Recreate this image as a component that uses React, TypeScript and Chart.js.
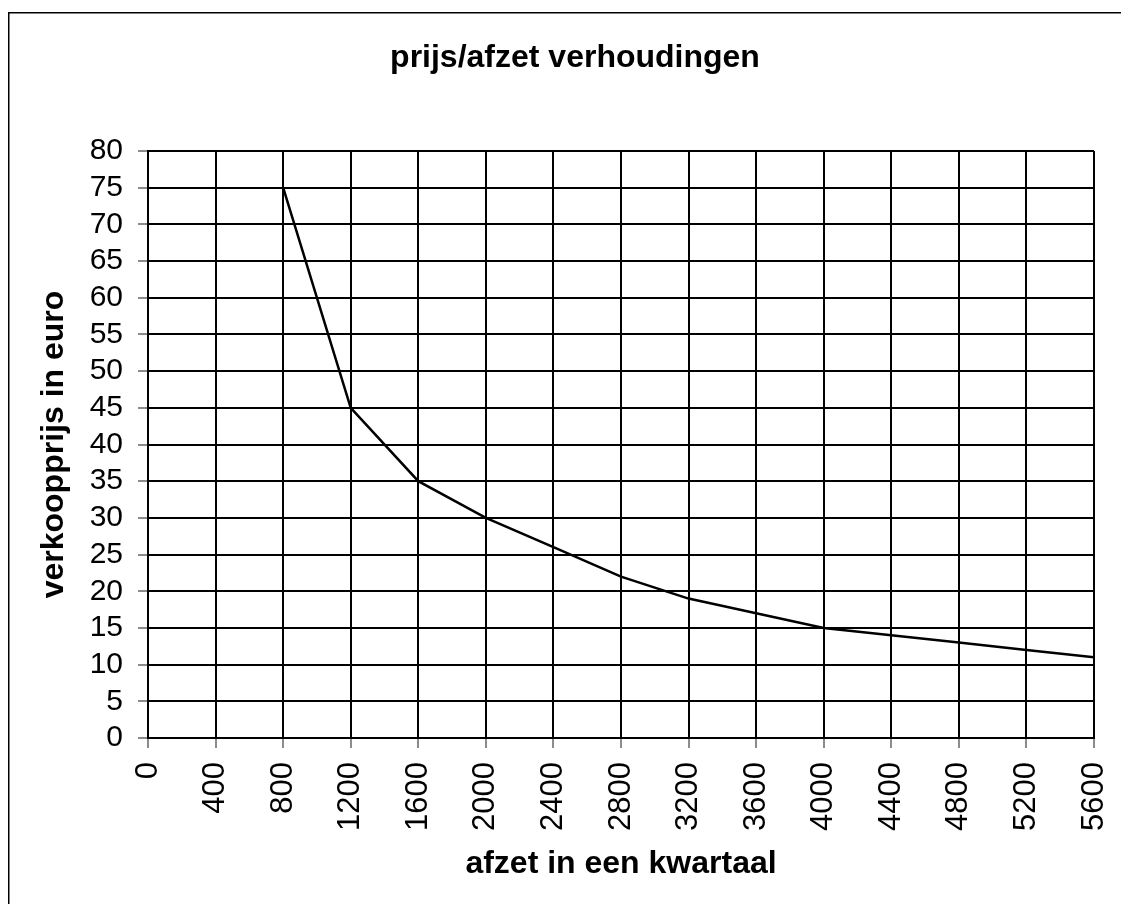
import React, { useEffect, useRef } from "react";
import { Chart, registerables } from "chart.js";

Chart.register(...registerables);

const afzet: number[] = [800, 1200, 1600, 2000, 2400, 2800, 3200, 3600, 4000, 4400, 4800, 5200, 5600];
const prijs: number[] = [75, 45, 35, 30, 26, 22, 19, 17, 15, 14, 13, 12, 11];
const titleText = "prijs/afzet verhoudingen";
const xTitle = "afzet in een kwartaal";
const yTitle = "verkoopprijs in euro";

const FONT = "'Liberation Sans', Arial, Helvetica, sans-serif";

const framePlugin = {
  id: "frame",
  afterDraw(chart: any) {
    const ctx = chart.ctx;
    ctx.save();
    ctx.strokeStyle = "#000";
    ctx.lineWidth = 1.5;
    ctx.beginPath();
    ctx.moveTo(0.75, chart.height);
    ctx.lineTo(0.75, 4.75);
    ctx.lineTo(chart.width, 4.75);
    ctx.stroke();
    ctx.fillStyle = "#000";
    ctx.font = `bold 32px ${FONT}`;
    ctx.textAlign = "center";
    ctx.textBaseline = "alphabetic";
    ctx.fillText(titleText, 567, 59);
    ctx.restore();
  },
};

export default function App() {
  const ref = useRef<HTMLCanvasElement>(null);
  useEffect(() => {
    if (!ref.current) return;
    const data = afzet.map((x, i) => ({ x, y: prijs[i] }));
    const chart = new Chart(ref.current, {
      type: "line",
      data: {
        datasets: [
          {
            data,
            borderColor: "#000",
            borderWidth: 2.5,
            pointRadius: 0,
            tension: 0,
            fill: false,
          },
        ],
      },
      options: {
        responsive: false,
        animation: false,
        layout: { padding: { top: 143, right: 35, bottom: 0, left: 0 } },
        plugins: { legend: { display: false }, tooltip: { enabled: false }, title: { display: false } },
        scales: {
          x: {
            type: "linear",
            min: 0,
            max: 5600,
            afterFit: (s: any) => {
              s.height = 166;
              s.paddingLeft = 0;
              s.paddingRight = 0;
            },
            ticks: {
              stepSize: 400,
              autoSkip: false,
              minRotation: 90,
              maxRotation: 90,
              padding: 14,
              color: "#000",
              font: { family: FONT, size: 31 },
              callback: (v: any) => String(v),
            },
            grid: { color: "#000", lineWidth: 2, tickLength: 10, tickColor: "#666", tickWidth: 1.5 },
            border: { color: "#000", width: 2 },
            title: {
              display: true,
              text: xTitle,
              color: "#000",
              font: { family: FONT, size: 32, weight: "bold" },
              padding: { top: 0, bottom: 21 },
            },
          },
          y: {
            type: "linear",
            min: 0,
            max: 80,
            afterFit: (s: any) => {
              s.width = 140;
              s.paddingTop = 0;
              s.paddingBottom = 0;
            },
            ticks: {
              stepSize: 5,
              autoSkip: false,
              padding: 15,
              color: "#000",
              font: { family: FONT, size: 30 },
              callback: (v: any) => String(v),
            },
            grid: { color: "#000", lineWidth: 2, tickLength: 10, tickColor: "#666", tickWidth: 1.5 },
            border: { color: "#000", width: 2 },
            title: {
              display: true,
              text: yTitle,
              color: "#000",
              font: { family: FONT, size: 32, weight: "bold" },
              padding: { top: 27, bottom: 0 },
            },
          },
        },
      },
      plugins: [framePlugin],
    } as any);
    return () => chart.destroy();
  }, []);
  return (
    <div>
      <canvas ref={ref} width={1121} height={896} style={{ display: "block" }} />
    </div>
  );
}
